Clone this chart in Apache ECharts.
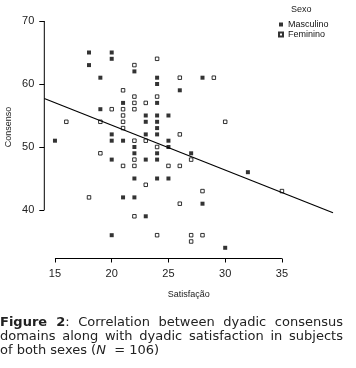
<!DOCTYPE html>
<html><head><meta charset="utf-8">
<script src="https://cdn.jsdelivr.net/npm/echarts@6/dist/echarts.min.js"></script>
<style>
html,body{margin:0;padding:0;background:#fff;}
#chart{position:absolute;left:0;top:0;width:356px;height:368px;}
#cap{position:absolute;left:0;top:315px;width:343px;font:13px/14px "DejaVu Sans",sans-serif;color:#222;text-align:justify;}
</style></head><body>
<div id="chart"></div>
<div id="cap"><b>Figure 2</b>: Correlation between dyadic consensus domains along with dyadic satisfaction in subjects of both sexes (<i>N</i> &nbsp;= 106)</div>
<script>
const xTicks = [15, 20, 25, 30, 35];
const yTicks = [40, 50, 60, 70];
const xRange = [14.06, 39.5];
const yRange = [32.3, 71];
const masculino = [
  [18,65],[20,65],[18,63],[20,64],[22,62],[19,61],[21,57],[19,56],[23,55],[23,54],
  [23,52],[20,52],[15,51],[20,51],[21,51],[22,50],[24,61],[28,61],[24,60],[26,59],
  [24,57],[24,55],[25,55],[24,54],[24,53],[24,52],[25,51],[25,50],[22,49],[20,48],
  [23,48],[22,45],[21,42],[22,42],[23,39],[20,36],[24,49],[27,49],[24,48],[24,45],
  [25,45],[32,46],[28,41],[30,34]
];
const feminino = [
  [22,63],[21,59],[22,58],[22,57],[23,57],[20,56],[21,56],[22,56],[21,55],[16,54],
  [19,54],[21,54],[21,53],[22,51],[23,51],[24,64],[26,61],[29,61],[24,58],[30,54],
  [26,52],[24,50],[19,49],[22,48],[21,47],[22,47],[23,44],[18,42],[22,39],[27,48],
  [25,47],[26,47],[28,43],[26,41],[24,36],[27,36],[28,36],[27,35],[35,43]
];
const regression = [[14.06, 57.7], [39.5, 39.57]];

const chart = echarts.init(document.getElementById('chart'));
const axisFont = {fontFamily: 'Liberation Sans, Arial, sans-serif', fontSize: 11, color: '#222'};
chart.setOption({
  animation: false,
  title: {text: 'Sexo', left: 291, top: 5, padding: 0,
    textStyle: {fontFamily: 'Liberation Sans, Arial, sans-serif', fontSize: 9, fontWeight: 'normal', color: '#222'}},
  legend: {
    data: ['Masculino', 'Feminino'], orient: 'vertical', left: 278, top: 20, padding: 0,
    itemWidth: 4, itemHeight: 4, itemGap: 1, icon: 'rect',
    textStyle: {fontFamily: 'Liberation Sans, Arial, sans-serif', fontSize: 9, fontWeight: 'normal', color: '#111', padding: [0,0,0,0]}
  },
  grid: {left: 44.3, right: 23, top: 14.7, bottom: 109.5, containLabel: false},
  xAxis: {
    type: 'value', min: xRange[0], max: xRange[1],
    name: 'Satisfação', nameLocation: 'middle', nameGap: 32,
    nameTextStyle: {fontFamily: 'Liberation Sans, Arial, sans-serif', fontSize: 9, color: '#222'},
    axisLine: {show: false}, splitLine: {show: false},
    axisTick: {show: true, customValues: xTicks, length: 4, lineStyle: {color: '#000'}},
    axisLabel: Object.assign({customValues: xTicks, margin: 10}, axisFont)
  },
  yAxis: {
    type: 'value', min: yRange[0], max: yRange[1],
    axisLine: {show: false}, splitLine: {show: false},
    axisTick: {show: true, customValues: yTicks, length: 5, lineStyle: {color: '#000'}},
    axisLabel: Object.assign({customValues: yTicks, margin: 10}, axisFont)
  },
  graphic: [{type: 'text', x: 9, y: 127, rotation: Math.PI / 2,
    style: {text: 'Consenso', fontFamily: 'Liberation Sans, Arial, sans-serif', fontSize: 9, fill: '#222', textAlign: 'center', textVerticalAlign: 'middle'}}],
  series: [
    {name: 'xAxisLine', type: 'line', silent: true, clip: false, symbol: 'none',
      data: [[xTicks[0], yRange[0]], [xTicks[xTicks.length - 1], yRange[0]]], lineStyle: {color: '#000', width: 1}},
    {name: 'yAxisLine', type: 'line', silent: true, clip: false, symbol: 'none',
      data: [[xRange[0], yTicks[0]], [xRange[0], yTicks[yTicks.length - 1]]], lineStyle: {color: '#000', width: 1}},
    {name: 'Ajuste', type: 'line', silent: true, symbol: 'none', data: regression,
      lineStyle: {color: '#000', width: 1.2}},
    {name: 'Masculino', type: 'scatter', symbol: 'rect', symbolSize: 4, data: masculino,
      itemStyle: {color: '#000'}},
    {name: 'Feminino', type: 'scatter', symbol: 'rect', symbolSize: 3.5, data: feminino,
      itemStyle: {color: '#fff', borderColor: '#000', borderWidth: 1}}
  ]
});
</script>
</body></html>
